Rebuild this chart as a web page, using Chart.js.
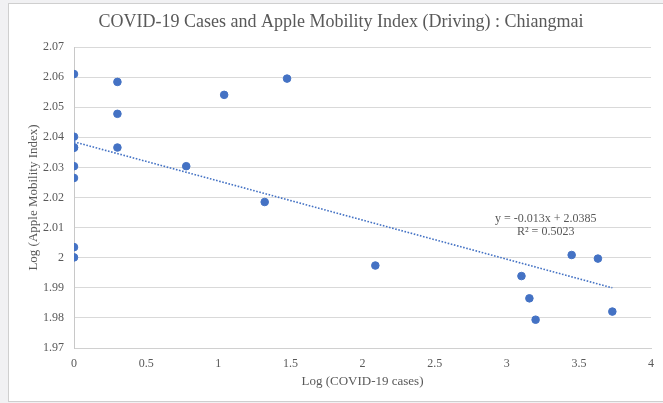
<!DOCTYPE html>
<html>
<head>
<meta charset="utf-8">
<script src="https://cdn.jsdelivr.net/npm/chart.js@4"></script>
<style>
    html, body { margin: 0; padding: 0; background: #f1f1f3; overflow: hidden; }
    #frame {
        position: absolute; left: 8px; top: 3px; width: 670px; height: 397px;
        background: #fff; border: 1px solid #cfcfcf;
    }
    #wrap { position: absolute; left: 0; top: 0; width: 663px; height: 403px; }
</style>
</head>
<body>
<div id="frame"></div>
<div id="wrap"><canvas id="scatterChart" width="663" height="403"></canvas></div>
<script>
// data
const logCases = [0, 0, 0, 0, 0, 0, 0, 0, 0.301, 0.301, 0.301, 0.778, 1.041, 1.477, 1.322,
    2.089, 3.102, 3.157, 3.200, 3.450, 3.632, 3.732];
const logMobility = [2.0610, 2.0402, 2.0365, 2.0304, 2.0265, 2.0035, 2.0001, 2.0367, 2.0584, 2.0478, 2.0366,
    2.0304, 2.0541, 2.0595, 2.0185, 1.9974, 1.9939, 1.9865, 1.9794, 2.0009, 1.9997, 1.9821];
// trendline as printed on the chart
const trendSlope = -0.013;
const trendIntercept = 2.0385;
const xTicks = [0, 0.5, 1, 1.5, 2, 2.5, 3, 3.5, 4];
const yTicks = [1.97, 1.98, 1.99, 2, 2.01, 2.02, 2.03, 2.04, 2.05, 2.06, 2.07];

const textColor = '#595959';
const serif = "'Liberation Serif', 'DejaVu Serif', serif";
const blue = '#4472c4';

const points = logCases.map((x, i) => ({ x: x, y: logMobility[i] }));
const xMax = Math.max(...logCases);
const trend = [
    { x: 0, y: trendIntercept },
    { x: xMax, y: trendIntercept + trendSlope * xMax }
];

// title + trendline label drawn as text
const labelsPlugin = {
    id: 'labels',
    afterDraw(chart) {
        const c = chart.ctx;
        c.save();
        c.fillStyle = textColor;
        c.textAlign = 'center';
        c.textBaseline = 'middle';
        c.font = '18px ' + serif;
        c.fillText('COVID-19 Cases and Apple Mobility Index (Driving) : Chiangmai', 341, 22);
        const xs = chart.scales.x, ys = chart.scales.y;
        c.font = '12px ' + serif;
        const lx = xs.getPixelForValue(3.27);
        c.fillText('y = -0.013x + 2.0385', lx, ys.getPixelForValue(2.0128));
        c.fillText('R\u00b2 = 0.5023', lx, ys.getPixelForValue(2.0085));
        c.restore();
    }
};

const fmt = v => String(Math.round(v * 100) / 100);

new Chart(document.getElementById('scatterChart').getContext('2d'), {
    type: 'scatter',
    data: {
        datasets: [
            {
                data: points,
                backgroundColor: blue,
                borderColor: blue,
                pointRadius: 3.8,
                pointHoverRadius: 3.8
            },
            {
                data: trend,
                showLine: true,
                borderColor: blue,
                borderWidth: 1.6,
                borderDash: [1.6, 1.6],
                pointRadius: 0,
                fill: false
            }
        ]
    },
    options: {
        responsive: false,
        animation: false,
        layout: { padding: { top: 47, right: 8, bottom: 10, left: 0 } },
        plugins: { legend: { display: false }, tooltip: { enabled: false } },
        scales: {
            x: {
                type: 'linear',
                min: 0, max: 4,
                afterBuildTicks: s => { s.ticks = xTicks.map(v => ({ value: v })); },
                afterFit: s => { s.height = 45; },
                grid: { display: false, drawTicks: false },
                border: { display: true, color: '#d0d0d0', width: 1 },
                ticks: { color: textColor, font: { family: serif, size: 12 }, padding: 9, maxRotation: 0, callback: fmt },
                title: {
                    display: true, text: 'Log (COVID-19 cases)', color: textColor,
                    font: { family: serif, size: 13 }, padding: { top: 4 }
                }
            },
            y: {
                type: 'linear',
                min: 1.97, max: 2.07,
                afterBuildTicks: s => { s.ticks = yTicks.map(v => ({ value: v })); },
                afterFit: s => { s.width = 74; },
                grid: { color: '#d9d9d9', drawTicks: false },
                border: { display: true, color: '#c8c8c8', width: 1 },
                ticks: { color: textColor, font: { family: serif, size: 12 }, padding: 10, callback: fmt },
                title: {
                    display: true, text: 'Log (Apple Mobility Index)', color: textColor,
                    font: { family: serif, size: 13 }, padding: { bottom: 0, top: 26 }
                }
            }
        }
    },
    plugins: [labelsPlugin]
});
</script>
</body>
</html>
